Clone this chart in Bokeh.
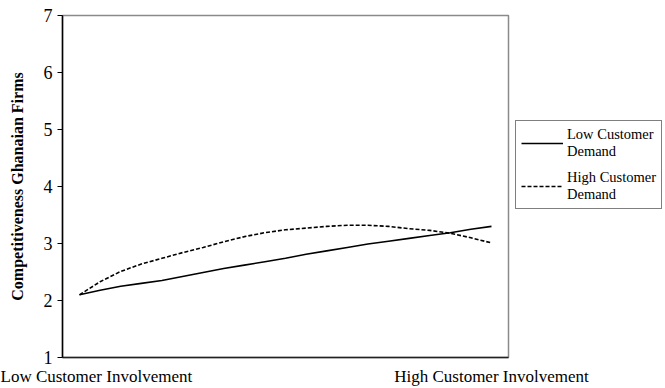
from bokeh.plotting import figure
from bokeh.models import Range1d, FixedTicker, Legend, LegendItem
from bokeh.embed import file_html
from bokeh.resources import INLINE

# Positions along the customer-involvement axis (0 = low, 10 = high)
involvement = [0, 0.5, 1, 1.5, 2, 2.5, 3, 3.5, 4, 4.5, 5,
               5.5, 6, 6.5, 7, 7.5, 8, 8.5, 9, 9.5, 10]
low_demand = [2.10, 2.18, 2.25, 2.30, 2.35, 2.42, 2.49, 2.56, 2.62, 2.68, 2.74,
              2.81, 2.87, 2.93, 2.99, 3.04, 3.09, 3.14, 3.19, 3.25, 3.30]
high_demand = [2.10, 2.33, 2.51, 2.64, 2.74, 2.84, 2.93, 3.03, 3.12, 3.19, 3.24,
               3.27, 3.30, 3.32, 3.32, 3.30, 3.26, 3.23, 3.18, 3.10, 3.01]

x_tick_labels = {0: "Low Customer Involvement", 10: "High Customer Involvement"}
y_ticks = [1, 2, 3, 4, 5, 6, 7]

SERIF = "Liberation Serif"

p = figure(
    frame_width=446, frame_height=342,
    x_range=Range1d(-0.413, 10.413), y_range=Range1d(1, 7),
    output_backend="svg", toolbar_location=None,
    min_border_left=62, min_border_right=157,
    min_border_top=15, min_border_bottom=31,
)
p.grid.visible = False
p.outline_line_color = "#8a8a8a"
p.outline_line_width = 1.5

r_low = p.line(involvement, low_demand, line_color="black", line_width=1.6)
r_high = p.line(involvement, high_demand, line_color="black", line_width=1.6,
                line_dash="4 2")

# y axis
ya = p.yaxis[0]
ya.ticker = FixedTicker(ticks=y_ticks)
ya.axis_label = "Competitiveness Ghanaian Firms"
ya.axis_label_text_font = SERIF
ya.axis_label_text_font_style = "bold"
ya.axis_label_text_font_size = "16px"
ya.axis_label_text_color = "black"
ya.axis_label_standoff = 15
ya.major_label_text_font = SERIF
ya.major_label_text_font_size = "18px"
ya.major_label_text_color = "black"
ya.major_label_standoff = 5
ya.major_tick_in = 0
ya.major_tick_out = 5
ya.major_tick_line_color = "black"
ya.minor_tick_line_color = None
ya.axis_line_color = "black"
ya.axis_line_width = 1.5

# x axis: only the two end labels
xa = p.xaxis[0]
xa.ticker = FixedTicker(ticks=[0, 10])
xa.major_label_overrides = x_tick_labels
xa.major_label_text_font = SERIF
xa.major_label_text_font_size = "17px"
xa.major_label_text_color = "black"
xa.major_label_standoff = 9
xa.major_tick_in = 0
xa.major_tick_out = 0
xa.minor_tick_line_color = None
xa.axis_line_color = "#222222"
xa.axis_line_width = 1.5

legend = Legend(
    items=[
        LegendItem(label="Low Customer\nDemand", renderers=[r_low]),
        LegendItem(label="High Customer\nDemand", renderers=[r_high]),
    ],
    location=(7, 148),
    border_line_color="black",
    border_line_width=1.8,
    background_fill_color="white",
    padding=5, margin=0, spacing=9,
    glyph_width=42, label_standoff=4,
    label_text_font=SERIF, label_text_font_size="14.5px",
    label_text_color="black", label_text_line_height=1.0,
)
p.add_layout(legend, "right")

open("out.html", "w").write(file_html(p, INLINE))
